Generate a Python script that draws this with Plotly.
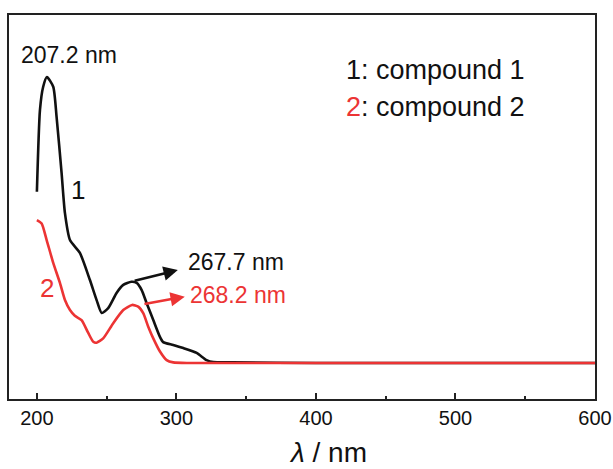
import plotly.graph_objects as go

# Compound 1 (black)
wl1 = [200.0, 202.2, 204.5, 207.2, 211.7, 214.1, 217.7, 220.1, 223.7, 230.8, 238.0, 242.8,
       246.4, 251.1, 257.1, 261.9, 267.7, 271.5, 275.1, 278.6, 283.4, 288.2, 290.5, 297.7,
       304.9, 314.5, 321.6, 326.4, 340.0, 400.0, 500.0, 600.0]
abs1 = [0.599, 0.885, 0.966, 1.000, 0.966, 0.861, 0.664, 0.524, 0.430, 0.385, 0.290, 0.220,
        0.175, 0.192, 0.245, 0.273, 0.284, 0.280, 0.255, 0.210, 0.150, 0.091, 0.073, 0.063,
        0.052, 0.035, 0.010, 0.003, 0.002, 0.0, 0.0, 0.0]

# Compound 2 (red)
wl2 = [200.0, 203.4, 207.0, 211.7, 216.5, 220.1, 223.7, 227.2, 232.0, 236.8, 240.4, 242.8,
       247.5, 254.7, 261.9, 268.2, 272.6, 276.2, 279.8, 283.4, 288.2, 293.0, 297.7, 309.7,
       400.0, 500.0, 600.0]
abs2 = [0.500, 0.488, 0.430, 0.350, 0.280, 0.220, 0.185, 0.165, 0.150, 0.105, 0.074, 0.071,
        0.086, 0.139, 0.185, 0.203, 0.197, 0.174, 0.127, 0.086, 0.040, 0.010, 0.002, 0.0,
        0.0, 0.0, 0.0]

x_ticks = [200, 300, 400, 500, 600]
peak_labels = ["207.2 nm", "267.7 nm", "268.2 nm"]
legend_lines = ["1: compound 1", "2: compound 2"]
x_title = "<i>λ</i> / nm"

BLACK = "#111111"
RED = "#ec3434"
FONT = "Liberation Sans, Arial, sans-serif"

W, H = 613, 469
L, R, T, B = 9, 595, 15, 399


def px(xp, yp):
    """window pixel position -> paper coords"""
    return (xp - L) / (R - L), 1 - (yp - T) / (B - T)


fig = go.Figure()
fig.add_trace(go.Scatter(x=wl1, y=abs1, mode="lines",
                         line=dict(color=BLACK, width=2.6, shape="spline", smoothing=0.6),
                         showlegend=False, hoverinfo="skip"))
fig.add_trace(go.Scatter(x=wl2, y=abs2, mode="lines",
                         line=dict(color=RED, width=2.6, shape="spline", smoothing=0.6),
                         showlegend=False, hoverinfo="skip"))

ann = []
ann.append(dict(x=222.9, y=1.077, text=peak_labels[0], showarrow=False,
                font=dict(size=23, color=BLACK, family=FONT)))
ann.append(dict(x=229.4, y=0.605, text="1", showarrow=False, font=dict(size=26, color=BLACK, family=FONT)))
ann.append(dict(x=206.9, y=0.262, text="2", showarrow=False, font=dict(size=26, color=RED, family=FONT)))
ann.append(dict(x=301.0, y=0.325, ax=269.0, ay=0.286, xref="x", yref="y", axref="x", ayref="y",
                text="", showarrow=True, arrowhead=2, arrowsize=1.1, arrowwidth=2.6, arrowcolor=BLACK))
ann.append(dict(x=306.0, y=0.232, ax=276.0, ay=0.205, xref="x", yref="y", axref="x", ayref="y",
                text="", showarrow=True, arrowhead=2, arrowsize=1.1, arrowwidth=2.6, arrowcolor=RED))
ann.append(dict(x=342.7, y=0.353, text=peak_labels[1], showarrow=False,
                font=dict(size=23, color=BLACK, family=FONT)))
ann.append(dict(x=344.0, y=0.238, text=peak_labels[2], showarrow=False,
                font=dict(size=23, color=RED, family=FONT)))
lx, ly = px(344, 53)
ann.append(dict(x=lx, y=ly, xref="paper", yref="paper", xanchor="left", text=legend_lines[0],
                showarrow=False, font=dict(size=27, color=BLACK, family=FONT)))
lx, ly = px(344, 90)
ann.append(dict(x=lx, y=ly, xref="paper", yref="paper", xanchor="left",
                text="<span style='color:%s'>2</span>" % RED + legend_lines[1][1:], showarrow=False,
                font=dict(size=27, color=BLACK, family=FONT)))
tx, ty = px(328, 469)
ann.append(dict(x=tx, y=ty, xref="paper", yref="paper", yanchor="bottom", text=x_title, showarrow=False,
                borderpad=0, font=dict(size=28, color=BLACK, family=FONT)))

fig.update_layout(
    width=W, height=H,
    margin=dict(l=L, r=W - R, t=T, b=H - B, pad=0, autoexpand=False),
    paper_bgcolor="white", plot_bgcolor="white",
    annotations=ann,
    font=dict(family=FONT, color=BLACK),
    xaxis=dict(range=[180, 600], tickvals=x_ticks, ticktext=[str(v) for v in x_ticks],
               ticks="inside", ticklen=6, tickwidth=2, tickcolor="#222",
               minor=dict(ticks="inside", ticklen=3, tickwidth=2, dtick=50, tick0=0, tickcolor="#222"),
               showline=True, linewidth=2, linecolor="#222", mirror=True, showgrid=False, zeroline=False,
               automargin=False, tickfont=dict(size=20, color=BLACK, family=FONT)),
    yaxis=dict(range=[-0.126, 1.217], showticklabels=False, ticks="", showline=True, linewidth=2,
               linecolor="#222", mirror=True, showgrid=False, zeroline=False, automargin=False),
)

fig.write_html("out.html", config={"displayModeBar": False},
               post_script="document.documentElement.style.overflow='hidden';"
                           "document.body.style.margin='0';document.body.style.overflow='hidden';")
